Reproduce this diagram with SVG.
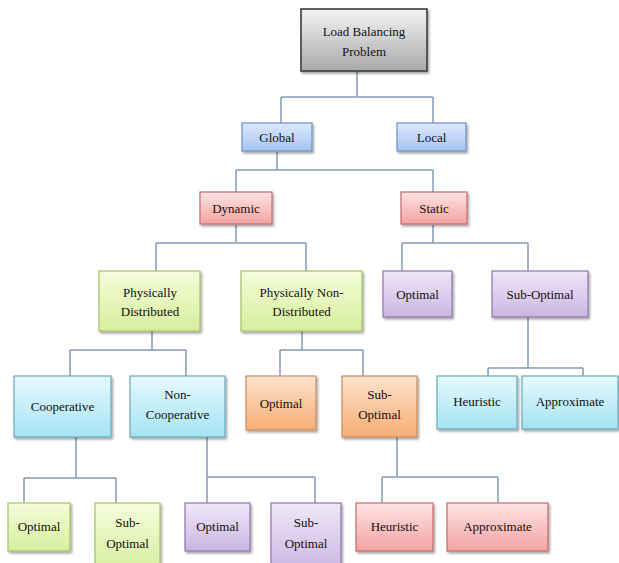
<svg xmlns="http://www.w3.org/2000/svg" width="619" height="563" viewBox="0 0 619 563">
<defs>
<linearGradient id="gGray" x1="0" y1="0" x2="0" y2="1"><stop offset="0" stop-color="#f4f4f4"/><stop offset="1" stop-color="#a9a9a9"/></linearGradient>
<linearGradient id="gBlue" x1="0" y1="0" x2="0" y2="1"><stop offset="0" stop-color="#dde9fc"/><stop offset="1" stop-color="#a5c2f2"/></linearGradient>
<linearGradient id="gRed" x1="0" y1="0" x2="0" y2="1"><stop offset="0" stop-color="#fde3e3"/><stop offset="1" stop-color="#f4a3a3"/></linearGradient>
<linearGradient id="gGreen" x1="0" y1="0" x2="0" y2="1"><stop offset="0" stop-color="#f6fcdc"/><stop offset="1" stop-color="#d6ef9c"/></linearGradient>
<linearGradient id="gPurple" x1="0" y1="0" x2="0" y2="1"><stop offset="0" stop-color="#f0e8f8"/><stop offset="1" stop-color="#cab5e3"/></linearGradient>
<linearGradient id="gCyan" x1="0" y1="0" x2="0" y2="1"><stop offset="0" stop-color="#e6f9fd"/><stop offset="1" stop-color="#a5e3f3"/></linearGradient>
<linearGradient id="gOrange" x1="0" y1="0" x2="0" y2="1"><stop offset="0" stop-color="#fde3cd"/><stop offset="1" stop-color="#f7ad74"/></linearGradient>
<filter id="sh" x="-10%" y="-10%" width="130%" height="140%"><feDropShadow dx="1.5" dy="2" stdDeviation="1.2" flood-color="#000" flood-opacity="0.35"/></filter>
</defs>
<style>
rect{filter:url(#sh);stroke-width:1.2}
.gray{fill:url(#gGray);stroke:#3c3c3c;stroke-width:1.6}
.blue{fill:url(#gBlue);stroke:#6d8fc6}
.red{fill:url(#gRed);stroke:#c46a6a}
.green{fill:url(#gGreen);stroke:#a3c06c}
.purple{fill:url(#gPurple);stroke:#8c75aa}
.cyan{fill:url(#gCyan);stroke:#68a8bd}
.orange{fill:url(#gOrange);stroke:#c98d5c}
text{font-family:"Liberation Serif","Times New Roman",serif;font-size:13px;fill:#111111;text-anchor:middle}
.conn path{fill:none;stroke:#8399b8;stroke-width:1.5}
</style>
<rect width="619" height="563" fill="#ffffff" style="filter:none;stroke:none"/>
<g class="conn" id="connectors">
<path d="M357,71V97M281,97H433M281,97V123M433,97V123"/>
<path d="M277,151V170M236,170H433M236,170V192M433,170V192"/>
<path d="M236,225V243M156,243H306M156,243V271M306,243V271"/>
<path d="M433,225V243M402,243H528M402,243V271M528,243V271"/>
<path d="M152,331V350M70,350H186M70,350V376M186,350V376"/>
<path d="M302,331V350M280,350H363M280,350V376M363,350V376"/>
<path d="M528,317V368M488,368H583M488,368V376M583,368V376"/>
<path d="M76,437V478M24,478H116M24,478V503M116,478V503"/>
<path d="M207,437V477M207,477H315M207,477V503M315,477V503"/>
<path d="M397,437V477M382,477H498M382,477V503M498,477V503"/>
</g>
<g id="root"><rect class="gray" x="301" y="9" width="126" height="62"/><text x="364" y="36">Load Balancing</text><text x="364" y="56">Problem</text></g>
<g id="global"><rect class="blue" x="242" y="123" width="70" height="28"/><text x="277" y="141.5">Global</text></g>
<g id="local"><rect class="blue" x="397" y="123" width="69" height="28"/><text x="431.5" y="141.5">Local</text></g>
<g id="dynamic"><rect class="red" x="200" y="192" width="72" height="32"/><text x="236" y="212.5">Dynamic</text></g>
<g id="static"><rect class="red" x="401" y="192" width="66" height="32"/><text x="434" y="212.5">Static</text></g>
<g id="phys-dist"><rect class="green" x="99" y="271" width="101" height="60"/><text x="150" y="297">Physically</text><text x="150" y="316">Distributed</text></g>
<g id="phys-nondist"><rect class="green" x="241" y="271" width="121" height="60"/><text x="301.5" y="297">Physically Non-</text><text x="301.5" y="316">Distributed</text></g>
<g id="static-optimal"><rect class="purple" x="383" y="271" width="69" height="46"/><text x="417.5" y="298.5">Optimal</text></g>
<g id="static-suboptimal"><rect class="purple" x="492" y="271" width="96" height="46"/><text x="540" y="298.5">Sub-Optimal</text></g>
<g id="cooperative"><rect class="cyan" x="14" y="376" width="97" height="61"/><text x="62.5" y="411">Cooperative</text></g>
<g id="non-cooperative"><rect class="cyan" x="130" y="376" width="95" height="61"/><text x="177.5" y="399">Non-</text><text x="177.5" y="419">Cooperative</text></g>
<g id="pnd-optimal"><rect class="orange" x="246" y="376" width="70" height="54"/><text x="281" y="407.5">Optimal</text></g>
<g id="pnd-suboptimal"><rect class="orange" x="342" y="376" width="75" height="61"/><text x="379.5" y="399">Sub-</text><text x="379.5" y="419">Optimal</text></g>
<g id="static-heuristic"><rect class="cyan" x="437" y="376" width="80" height="53"/><text x="477" y="406">Heuristic</text></g>
<g id="static-approximate"><rect class="cyan" x="522" y="376" width="96" height="53"/><text x="570" y="406">Approximate</text></g>
<g id="coop-optimal"><rect class="green" x="8" y="503" width="62" height="48"/><text x="39" y="531">Optimal</text></g>
<g id="coop-suboptimal"><rect class="green" x="95" y="503" width="65" height="70"/><text x="127.5" y="527">Sub-</text><text x="127.5" y="548">Optimal</text></g>
<g id="noncoop-optimal"><rect class="purple" x="185" y="503" width="65" height="48"/><text x="217.5" y="531">Optimal</text></g>
<g id="noncoop-suboptimal"><rect class="purple" x="271" y="503" width="70" height="70"/><text x="306" y="527">Sub-</text><text x="306" y="548">Optimal</text></g>
<g id="pnd-heuristic"><rect class="red" x="356" y="503" width="77" height="48"/><text x="394.5" y="531">Heuristic</text></g>
<g id="pnd-approximate"><rect class="red" x="447" y="503" width="101" height="48"/><text x="497.5" y="531">Approximate</text></g>
</svg>
